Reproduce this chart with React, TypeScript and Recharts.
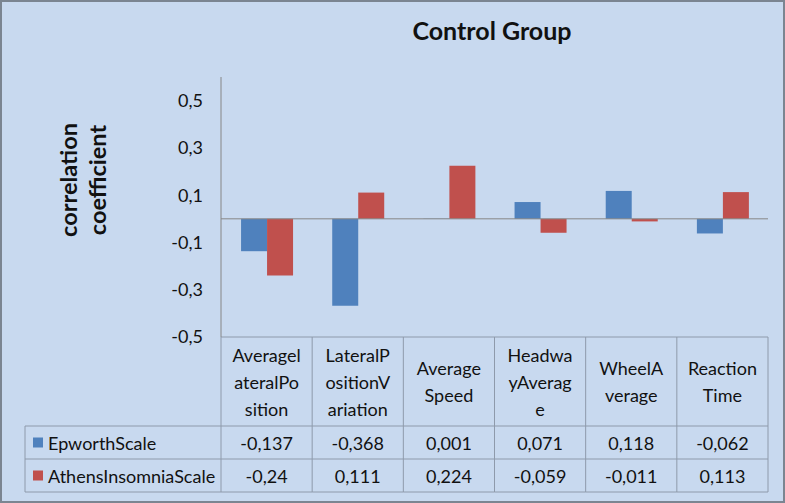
import { Bar, BarChart, Customized, ReferenceLine, XAxis, YAxis } from "recharts";

const CATEGORIES = [
  "AveragelateralPosition",
  "LateralPositionVariation",
  "AverageSpeed",
  "HeadwayAverage",
  "WheelAverage",
  "ReactionTime",
];
// header cell text, wrapped the way the table shows it
const HEADER_LINES = [
  ["Averagel", "ateralPo", "sition"],
  ["LateralP", "ositionV", "ariation"],
  ["Average", "Speed"],
  ["Headwa", "yAverag", "e"],
  ["WheelA", "verage"],
  ["Reaction", "Time"],
];
const EPWORTH = [-0.137, -0.368, 0.001, 0.071, 0.118, -0.062];
const ATHENS = [-0.24, 0.111, 0.224, -0.059, -0.011, 0.113];
const Y_TICKS = [-0.5, -0.3, -0.1, 0.1, 0.3, 0.5];

const SERIES = [
  { key: "epworth", name: "EpworthScale", color: "#4f81bd", values: EPWORTH },
  { key: "athens", name: "AthensInsomniaScale", color: "#c0504d", values: ATHENS },
];

const data = CATEGORIES.map((category, i) => ({
  category,
  epworth: EPWORTH[i],
  athens: ATHENS[i],
}));

const W = 785;
const H = 503;
const PLOT_LEFT = 221;
const PLOT_RIGHT = 768;
const BAND = (PLOT_RIGHT - PLOT_LEFT) / CATEGORIES.length;
const TABLE_TOP = 337;
const ROW1_TOP = 426;
const ROW_H = 33;
const TABLE_BOTTOM = ROW1_TOP + ROW_H * 2;
const LEGEND_LEFT = 25;
const LINE_H = 27;

const FONT = "Lato, 'Open Sans', sans-serif";
const TEXT = "#111";
const GRID = "#8e9aab";

const fmt = (v: number) => String(v).replace(".", ",");

function TableTick(props: any) {
  const { x, payload } = props;
  const i = CATEGORIES.indexOf(payload.value);
  const left = x - BAND / 2;
  const right = x + BAND / 2;
  const lines = HEADER_LINES[i];
  const mid = (TABLE_TOP + ROW1_TOP) / 2;
  const startY = mid - ((lines.length - 1) * LINE_H) / 2;
  const rowLeft = i === 0 ? LEGEND_LEFT : left;
  return (
    <g fontFamily={FONT} fontSize={18} fill={TEXT}>
      {lines.map((t, k) => (
        <text key={k} x={x} y={startY + k * LINE_H} textAnchor="middle" dominantBaseline="central">
          {t}
        </text>
      ))}
      {SERIES.map((s, k) => (
        <text
          key={s.key}
          x={x}
          y={ROW1_TOP + ROW_H * (k + 0.5)}
          textAnchor="middle"
          dominantBaseline="central"
        >
          {fmt(s.values[i])}
        </text>
      ))}
      <line x1={right} x2={right} y1={TABLE_TOP} y2={TABLE_BOTTOM} stroke={GRID} />
      {i === 0 && <line x1={left} x2={left} y1={TABLE_TOP} y2={TABLE_BOTTOM} stroke={GRID} />}
      {[ROW1_TOP, ROW1_TOP + ROW_H, TABLE_BOTTOM].map((y) => (
        <line key={y} x1={rowLeft} x2={right} y1={y} y2={y} stroke={GRID} />
      ))}
      {i === 0 && (
        <g>
          <line x1={LEGEND_LEFT} x2={LEGEND_LEFT} y1={ROW1_TOP} y2={TABLE_BOTTOM} stroke={GRID} />
          {SERIES.map((s, k) => {
            const cy = ROW1_TOP + ROW_H * (k + 0.5);
            return (
              <g key={s.key}>
                <rect x={LEGEND_LEFT + 8} y={cy - 5} width={10} height={10} fill={s.color} />
                <text x={LEGEND_LEFT + 23} y={cy} dominantBaseline="central">
                  {s.name}
                </text>
              </g>
            );
          })}
        </g>
      )}
    </g>
  );
}

function Titles() {
  return (
    <g fontFamily={FONT} fontWeight="bold" fill={TEXT}>
      <text x={492} y={40} textAnchor="middle" fontSize={25}>
        Control Group
      </text>
      <text transform="translate(68,180) rotate(-90)" textAnchor="middle" dominantBaseline="central" fontSize={23.5}>
        correlation
      </text>
      <text transform="translate(97,180) rotate(-90)" textAnchor="middle" dominantBaseline="central" fontSize={23.5}>
        coefficient
      </text>
    </g>
  );
}

export default function App() {
  return (
    <div style={{ position: "absolute", left: 0, top: 0, width: W, height: H, background: "#c8d9ef" }}>
      <BarChart
        width={W}
        height={H}
        data={data}
        margin={{ top: 77, right: W - PLOT_RIGHT, bottom: 0, left: 0 }}
        barCategoryGap="22%"
        barGap={0}
      >
        <XAxis
          dataKey="category"
          height={H - TABLE_TOP}
          axisLine={{ stroke: GRID }}
          tickLine={false}
          interval={0}
          tick={TableTick}
        />
        <YAxis
          width={PLOT_LEFT}
          domain={[-0.5, 0.6]}
          ticks={Y_TICKS}
          interval={0}
          tickFormatter={fmt}
          tickLine={false}
          tickSize={6}
          tickMargin={12}
          axisLine={{ stroke: "#868686" }}
          tick={{ fontFamily: FONT, fontSize: 18, fill: TEXT }}
        />
        <ReferenceLine y={0} stroke="#868686" />
        {SERIES.map((s) => (
          <Bar key={s.key} dataKey={s.key} name={s.name} fill={s.color} isAnimationActive={false} />
        ))}
        <Customized component={Titles} />
      </BarChart>
      <div
        style={{
          position: "absolute",
          inset: 0,
          border: "2px solid #7b8591",
          pointerEvents: "none",
        }}
      />
    </div>
  );
}
